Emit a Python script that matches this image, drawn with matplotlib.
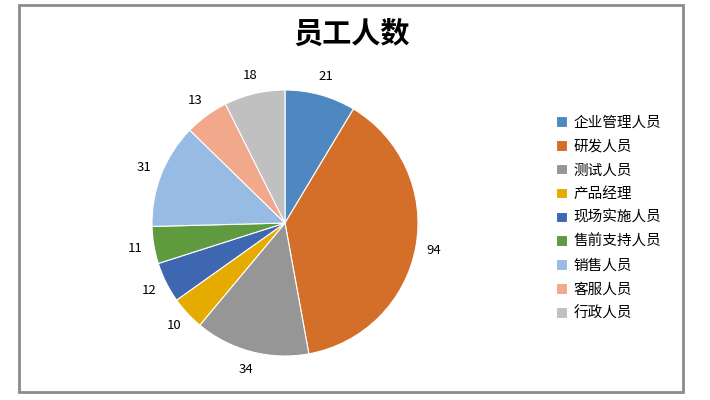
import matplotlib
matplotlib.use('Agg')
import matplotlib.pyplot as plt
from matplotlib.patches import Rectangle

plt.rcParams['font.family'] = ['Noto Sans CJK SC', 'DejaVu Sans']

# 数据
categories = ['企业管理人员', '研发人员', '测试人员', '产品经理', '现场实施人员',
              '售前支持人员', '销售人员', '客服人员', '行政人员']
counts = [21, 94, 34, 10, 12, 11, 31, 13, 18]
colors = ['#4F88C0', '#D46F2A', '#969696', '#E5AB00', '#3E67B1',
          '#5F9A3E', '#97BBE3', '#F2A88B', '#C0C0C0']

W, H = 710, 400
fig = plt.figure(figsize=(W / 100, H / 100), dpi=100)

# cadre gris
fig.patches.append(Rectangle((19 / W, 1 - 392 / H), (683 - 19) / W, (392 - 5) / H,
                             transform=fig.transFigure, fill=False,
                             edgecolor='#8C8C8C', linewidth=2))

cx, cy, r = 285, 223, 133
ax = fig.add_axes([(cx - r) / W, (H - cy - r) / H, 2 * r / W, 2 * r / H])
wedges, texts, autotexts = ax.pie(
    counts, colors=colors, startangle=90, counterclock=False,
    autopct=lambda p: '%d' % round(p * sum(counts) / 100),
    pctdistance=1.14, radius=1,
    wedgeprops=dict(edgecolor='white', linewidth=0.8),
    textprops=dict(fontsize=9.5, color='black'))
ax.set_xlim(-1, 1)
ax.set_ylim(-1, 1)
ax.set_aspect('equal')

fig.text(352 / W, 1 - 34 / H, '员工人数', ha='center', va='center',
         fontsize=21, fontweight='bold')

fig.legend(wedges, categories, loc='center left',
           bbox_to_anchor=(543 / W, 1 - 218 / H), frameon=False,
           fontsize=10.5, handlelength=0.75, handleheight=0.75,
           handletextpad=0.45, labelspacing=0.67)

fig.savefig('out.png', dpi=100)
